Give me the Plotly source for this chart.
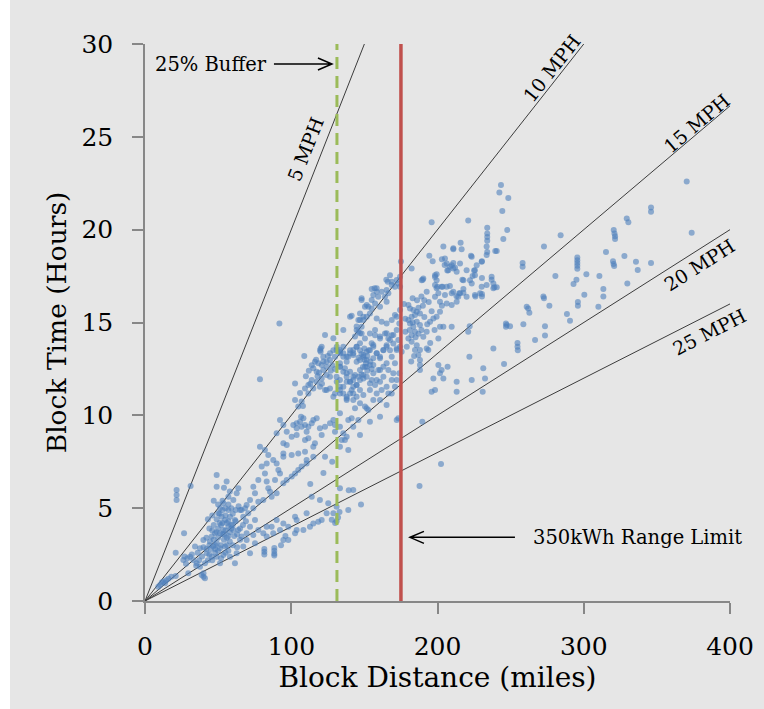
import math
import plotly.graph_objects as go

# ---- data -----------------------------------------------------------------
# (block distance in miles, block time in hours)
short_blocks = [
    (9.1, 0.77), (10.3, 0.86), (11.5, 1.0), (12.5, 1.04), (13.7, 0.95), (14.5, 1.12), (16, 1.2), (18, 1.3), (21, 1.35),
    (21.6, 5.98), (21.6, 5.71), (21.6, 5.44), (31.2, 6.2), (26.7, 3.65), (21, 2.6),
    (49.0, 6.79), (49.0, 6.16), (55.8, 6.43), (63.8, 6.07), (62.7, 5.8), (57.0, 5.62), (60.4, 5.44), (53.6, 5.26), (51.3, 4.99), (50.1, 4.72),
    (52.4, 4.54), (54.7, 4.36), (57.0, 4.9), (58.1, 4.54), (61.5, 4.36), (65.0, 4.9), (67.2, 4.54), (70.6, 4.72), (75.2, 4.36), (71.8, 4.0),
    (69.5, 3.65), (66.1, 3.47), (63.8, 3.82), (60.4, 3.82), (57.0, 4.0), (53.6, 3.82), (51.3, 3.65), (47.9, 3.65), (45.6, 3.47), (44.4, 3.2),
    (46.7, 2.93), (49.0, 3.11), (51.3, 2.84), (54.7, 2.93), (42.2, 2.57), (45.6, 2.39), (49.0, 2.39), (51.3, 2.03), (41.0, 2.03), (37.6, 1.85),
    (35.3, 2.03), (33.0, 2.21), (30.8, 2.39), (26.2, 2.21), (34.2, 2.93), (39.9, 3.29), (37.6, 2.84), (29.6, 1.49), (38.7, 1.4), (41.0, 1.22),
    (62.7, 2.57), (61.5, 2.03), (58.1, 2.39), (53.6, 2.48), (67.2, 2.93), (69.5, 3.29), (74.1, 3.56), (77.5, 3.82), (80.9, 3.65), (83.2, 3.47),
    (87.7, 3.65), (92.3, 3.82), (94.6, 4.18), (90.0, 4.36), (86.6, 4.0), (83.2, 4.0), (75.2, 3.11), (71.8, 2.57),
    (50, 3.9), (52, 4.1), (53, 3.6), (54, 3.3), (55, 3.8), (56, 4.2), (57, 3.5), (58, 3.2), (59, 3.9), (55, 2.6),
    (52, 2.3), (48, 2.6), (46, 2.2), (44, 2.5), (47, 4.1), (49, 4.4), (51, 4.7), (53, 4.9), (60, 4.7), (62, 4.9),
    (64, 5.1), (66, 4.9), (60, 3.0), (63, 2.9), (65, 3.3), (56, 3.0), (57, 2.7), (50, 3.4), (48, 3.0), (45, 2.8),
    (43, 2.2), (61, 3.5), (53, 5.4), (58, 5.9), (54, 6.1), (50, 5.2), (46, 4.6), (44, 3.9), (42, 3.4), (40, 2.9),
    (40, 1.5), (40, 1.3), (36, 2.6), (32, 2.5), (28, 2.0), (27, 2.4), (29, 2.3),
    (47, 3.3), (49, 3.7), (51, 4.2), (53, 4.2), (55, 4.6), (57, 4.3), (59, 4.1), (52, 3.0), (54, 3.6), (56, 3.4),
    (58, 3.7), (60, 4.1), (62, 4.3), (48, 2.8), (50, 2.7), (44, 3.0), (42, 2.8), (39, 2.4), (37, 2.2), (35, 1.9),
    (63, 3.6), (65, 3.9), (67, 4.1), (69, 4.3), (46, 3.8), (55, 5.0), (57, 5.2), (59, 5.0), (47, 5.4), (43, 4.4),
    (81.6, 2.8), (81.6, 2.65), (81.6, 2.5), (88.4, 2.85), (88.4, 2.7), (88.4, 2.55), (88.4, 2.45),
    (78.6, 8.31), (82.0, 8.13), (84.3, 7.86), (87.7, 7.59), (90.0, 7.41), (91.2, 7.05), (92.3, 6.87), (83.2, 7.41), (79.8, 7.24), (82.0, 6.87),
    (88.9, 6.52), (83.2, 6.43), (84.3, 6.07), (85.5, 5.89), (77.5, 6.52), (74.1, 6.16), (75.2, 5.8), (71.8, 5.44), (69.5, 5.17), (68.4, 4.99),
    (74.1, 4.99), (77.5, 5.35), (80.9, 5.44), (86.6, 5.62), (90.0, 5.8), (94.6, 6.34), (96.9, 6.52),
    (94.6, 3.29), (98.0, 4.0), (98.0, 3.29), (93, 3.0), (96, 3.5),
    (78.6, 11.94), (91.9, 14.95),
    (94.6, 9.48), (92.3, 9.75), (90.0, 9.03), (94.6, 8.49), (96.9, 8.4), (94.6, 7.95), (94.6, 7.77), (96.9, 9.12),
]

medium_blocks = [
    (100.3, 6.7), (102.6, 6.87), (104.8, 7.05), (107.1, 7.24), (110.5, 7.41), (113, 6.3), (122, 6.9), (128, 7.5),
    (102.6, 3.65), (103.7, 3.82), (108.3, 3.82), (112.8, 4.0), (115.1, 4.18), (118.5, 4.27), (120.8, 4.36), (125.3, 5.26), (128.8, 4.72), (131.0, 5.08),
    (133.3, 6.07), (139.0, 4.9), (142.4, 5.98), (102.6, 4.54), (110.5, 4.72), (124.2, 4.72), (119.6, 5.44), (114.0, 5.62), (103.7, 4.36), (131, 4.3),
    (132, 4.5), (130, 4.2), (133, 4.8), (147.7, 5.2), (139.3, 5.96), (127.7, 4.38),
    (106.7, 9.93), (108.3, 9.84), (106.0, 9.66), (103.7, 9.57), (109.4, 9.48), (111.7, 9.39), (115.1, 9.75), (117.4, 9.84), (114.0, 9.57), (107.1, 9.39),
    (103.7, 9.3), (101.4, 9.48), (110.5, 9.12), (111.7, 8.76), (116.2, 8.49), (115.1, 8.31), (103.7, 8.94), (100.3, 8.85),
    (100.3, 7.86), (104.8, 7.95), (109.4, 8.04), (110.5, 7.59), (115.1, 7.77), (119.6, 9.3), (123.1, 9.39), (120.8, 8.94), (126.5, 9.57), (128.8, 9.75),
    (129.9, 9.12), (133.3, 9.39), (135.6, 9.03), (136.7, 8.67), (139.0, 8.13), (141.3, 9.84), (123.1, 7.77), (109.4, 8.67),
    (134.5, 8.67), (137.9, 8.85), (133.3, 8.31), (142.4, 9.39), (147.0, 8.94), (139.0, 9.75), (129.9, 9.48), (133.3, 10.11), (143.6, 10.38), (145.9, 9.75),
    (150.4, 10.47), (151.6, 10.38), (152.7, 10.29), (153.8, 9.66), (172.1, 9.75), (173.2, 9.84), (160.7, 9.93), (165.2, 10.56), (166.4, 11.18),
    (116.2, 12.89), (118.5, 12.8), (120.8, 12.71), (115.1, 12.53), (117.4, 12.35), (121.9, 12.44), (124.2, 12.62), (126.5, 12.98), (129.9, 13.16), (133.3, 13.52),
    (135.6, 13.34), (139.0, 13.16), (142.4, 13.25), (144.7, 12.89), (133.3, 12.8), (136.7, 12.53), (140.2, 12.35), (143.6, 12.17), (131.0, 12.08), (133.3, 11.9),
    (137.9, 11.81), (142.4, 11.9), (145.9, 12.08), (124.2, 12.17), (120.8, 11.99), (117.4, 11.81), (114.0, 11.9), (111.7, 11.63), (109.4, 11.45), (115.1, 11.45),
    (119.6, 11.54), (123.1, 11.36), (126.5, 11.45), (129.9, 11.18), (133.3, 11.36), (137.9, 11.0), (141.3, 11.36), (111.7, 11.18), (107.1, 10.74), (102.6, 10.83),
    (102.6, 11.72), (104.8, 10.47), (141.3, 15.37), (135.6, 14.6), (123.1, 14.33), (128.8, 14.15), (120.1, 13.6), (120.1, 13.43), (120.8, 13.7), (108.9, 13.19),
    (112, 12.4), (114, 12.7), (117, 13.0), (119, 12.3), (122, 12.9), (125, 13.2), (127, 12.4), (110, 12.1), (113, 11.7), (118, 12.1),
    (121, 11.7), (128, 12.7), (130, 12.5), (106, 11.2), (108, 10.5),
    (131.1, 13.52), (133.3, 13.34), (135.6, 13.7), (137.9, 13.16), (140.2, 13.34), (142.4, 13.52), (144.7, 13.7), (147.0, 13.88), (143.6, 14.24), (145.9, 14.5),
    (148.1, 14.77), (149.3, 15.13), (151.6, 15.31), (147.0, 15.49), (150.4, 15.85), (155.0, 15.76), (157.3, 14.6), (155.0, 13.88), (151.6, 13.43), (149.3, 13.16),
    (147.0, 12.98), (150.4, 12.62), (153.8, 12.71), (156.1, 13.07), (158.4, 13.34), (160.7, 13.16), (163.0, 13.52), (165.2, 13.7), (167.5, 14.06), (169.8, 14.33),
    (165.2, 14.42), (160.7, 14.24), (156.1, 13.79),
    (133.3, 12.62), (135.6, 12.35), (137.9, 12.08), (140.2, 11.81), (142.4, 11.54), (144.7, 11.63), (147.0, 11.9), (149.3, 12.17), (151.6, 12.08), (155.0, 11.9),
    (157.3, 11.63), (160.7, 11.81), (163.0, 12.08), (159.5, 12.44), (156.1, 12.26), (163.0, 12.62), (166.4, 12.44), (169.8, 12.26), (168.7, 11.9), (165.2, 11.54),
    (161.8, 11.36), (158.4, 11.18), (153.8, 11.36), (149.3, 11.09), (144.7, 11.0), (140.2, 11.18), (137.9, 10.83), (142.4, 10.83), (147.0, 10.65), (133.3, 11.54),
    (135.6, 11.18), (156.1, 10.83), (160.7, 10.83), (168.7, 11.18), (170.9, 11.54), (172.1, 11.9), (170.9, 12.8), (168.7, 13.16), (173.2, 14.06), (174.4, 13.7),
    (148, 13.3), (150, 13.0), (152, 13.2), (151, 12.8), (149, 12.6), (153, 13.5), (154, 12.9), (146, 13.1), (150, 13.6), (152, 12.4), (148, 12.2), (155, 12.5),
    (119.7, 13.51), (121.9, 13.16), (124.2, 12.89), (126.5, 13.34), (128.8, 13.51), (131.1, 13.69), (133.3, 13.43), (135.6, 13.16), (137.9, 12.89), (140.2, 13.51),
    (142.4, 13.34), (144.7, 13.69), (147.0, 13.51), (149.3, 13.25), (151.6, 12.98), (153.8, 13.51), (156.1, 13.69), (158.4, 13.34), (160.7, 13.07), (163.0, 13.51),
    (165.2, 13.78), (167.5, 13.51), (169.8, 13.87), (172.1, 13.6),
    (144.7, 14.59), (148.1, 14.41), (150.4, 14.14), (153.8, 14.41), (157.3, 14.32), (160.7, 14.14), (164.1, 14.41), (166.4, 14.14), (168.7, 14.32),
    (147.0, 15.13), (149.3, 15.31), (153.8, 15.49), (158.4, 15.22), (161.8, 15.04), (165.2, 14.95), (168.7, 15.13), (170.9, 15.4),
    (133.3, 12.62), (137.9, 12.26), (142.4, 12.08), (147.0, 12.44), (151.6, 12.62), (156.1, 12.71), (160.7, 12.44), (165.2, 12.8),
    (126.5, 12.08), (131.1, 11.81), (135.6, 11.54), (140.2, 11.81), (144.7, 11.63), (149.3, 11.99), (153.8, 11.72), (158.4, 11.9),
    (124.2, 11.36), (128.8, 11.0), (133.3, 11.18), (137.9, 10.91), (142.4, 11.18), (147.0, 11.36),
    (172.1, 15.31), (174.4, 15.67), (173.9, 14.95), (172.1, 14.6), (172.1, 13.52), (173.9, 12.26), (168.7, 17.02), (174.4, 17.47), (172.1, 17.29), (174.4, 16.93),
    (165, 17.3), (166, 17.2), (155, 16.8), (157, 16.85), (158.4, 16.66), (148.1, 16.3), (152.7, 15.85), (145.9, 15.13), (144.7, 14.78), (147, 14.42), (140.2, 15.31),
    (167.5, 17.55), (168.7, 17.19), (173.2, 17.1), (170.9, 16.93), (165.2, 16.75), (161.8, 16.66), (158.4, 16.84), (156.1, 16.48), (159.5, 16.39), (164.1, 16.39),
    (166.4, 16.57), (155.0, 16.21), (157.3, 16.03), (151.6, 15.94), (148.1, 16.21), (165.2, 16.12), (160.7, 15.85),
]

long_blocks = [
    (175.5, 13.43), (175.0, 18.28), (182.3, 17.91),
    (189.2, 17.28), (190.3, 17.37), (192.6, 16.66), (198.3, 17.55), (199.4, 17.28), (198.3, 17.02), (199.4, 16.84), (200.6, 16.57), (198.3, 16.39), (202.8, 16.93),
    (206.3, 16.93), (207.4, 17.82), (209.7, 18.09), (210.8, 17.91), (213.1, 17.73), (206.3, 18.18), (205.1, 18.45), (215.4, 18.18), (219.9, 17.82), (225.6, 17.82),
    (226.8, 18.09), (230.2, 18.27), (233.6, 18.63), (223.4, 18.54), (225.6, 17.55), (222.2, 17.28), (217.7, 17.28), (215.4, 16.57), (214.2, 16.39), (209.7, 16.57),
    (205.1, 16.48), (201.7, 16.12), (206.3, 16.03), (209.7, 15.94), (213.1, 16.12), (219.9, 16.39), (225.6, 16.48), (229.1, 16.57), (230.2, 16.93), (233.6, 17.02),
    (237.0, 17.46), (238.2, 17.1), (238.2, 16.84),
    (180.1, 15.94), (181.2, 15.76), (183.5, 15.67), (185.8, 15.58), (188.0, 15.49), (184.6, 15.4), (182.3, 15.31), (180.1, 15.13), (181.2, 14.95), (183.5, 14.77),
    (185.8, 15.04), (188.0, 14.86), (184.6, 14.5), (182.3, 14.32), (180.1, 14.14), (182.3, 13.96), (185.8, 13.78), (188.0, 13.52), (186.9, 13.25), (188.0, 12.98),
    (184.6, 13.52), (190.3, 14.23), (192.6, 14.5), (194.9, 15.04), (197.2, 15.22), (199.4, 15.31), (201.7, 15.58), (201.7, 14.77), (204.0, 14.77), (209.7, 14.77),
    (200.6, 14.14), (192.6, 13.6), (193.7, 13.52),
    (181, 14.6), (183, 15.0), (185, 14.2), (187, 15.8), (189, 14.6), (191, 16.2), (184, 13.2), (182, 12.9),
    (221.8, 13.16), (206.9, 12.62), (202.8, 12.44), (201.7, 12.26), (204.0, 11.99), (213.1, 11.81), (223.4, 11.9), (231.3, 12.53), (232.5, 11.99), (230.9, 11.27),
    (238.2, 13.6), (197.2, 11.99), (198.3, 11.36), (196.0, 11.27), (213.1, 11.27), (188.0, 12.44), (188.0, 12.71), (200.6, 12.71),
    (202.4, 7.38), (189.6, 9.66), (187.7, 6.2),
    (243.4, 22.4), (242.3, 22.0), (248.4, 21.7), (244.3, 21.0), (247.7, 19.98), (245.0, 19.5), (221.0, 20.5), (196.0, 20.4),
    (234, 20.1), (234, 19.8), (234, 19.6), (234, 19.4), (233.6, 19.1), (234, 18.8),
    (240.5, 18.85), (239.5, 18.85), (215.8, 19.3), (210.8, 19.0), (210.8, 18.95), (204.0, 19.1), (216.5, 18.95), (194.4, 18.6), (196.7, 18.3), (203.0, 18.4),
    (210.8, 18.2), (204.9, 18.1), (208.5, 18.0), (212.0, 17.95), (206.7, 17.8), (222.9, 18.6), (230.4, 18.3), (225.0, 17.8), (224.0, 17.5), (230.4, 17.4),
    (237.0, 17.3), (238.9, 16.9), (240.5, 16.9), (272.8, 19.1), (284.2, 19.7), (258.2, 18.2), (258.2, 18.0), (280.6, 17.5),
    (199.4, 17.6), (198.3, 17.45), (199.9, 16.93), (189.9, 17.3), (203.5, 16.93), (208.5, 16.96), (217.0, 17.3), (217.7, 16.8), (217.7, 16.6), (223.4, 17.1),
    (230.4, 16.4), (230.4, 16.53), (225.9, 16.4), (214.9, 16.57), (213.0, 16.42), (210.8, 16.66),
    (186, 16.2), (190, 15.9), (194, 16.1), (196, 15.6), (191, 15.3), (187, 14.4), (193, 14.9), (198, 14.6), (195, 13.9), (203, 15.9),
    (189, 16.4), (183, 16.3), (178, 15.2), (177, 16.0), (178, 14.5), (179, 13.7),
    (272.4, 16.4), (272.8, 16.3), (276.5, 15.9), (261.0, 15.85), (262.0, 15.76), (262.8, 15.53), (288.5, 15.46), (246.8, 14.95), (246.8, 14.77), (247.3, 14.86),
    (249.6, 14.8), (258.7, 14.9), (273.5, 14.8), (273.5, 14.3), (221.0, 14.5), (222.0, 14.8),
    (254.7, 13.9), (254.7, 13.7), (254.9, 13.5), (266.7, 14.06), (245.5, 12.76), (290.6, 15.1), (293.0, 17.07), (295.0, 17.3),
    (295.6, 18.5), (295.6, 18.35), (295.6, 18.2), (295.6, 18.05), (295.6, 17.9), (296.0, 16.1), (296.0, 15.9), (300.4, 16.5), (301.8, 17.6), (310.0, 15.85),
    (310.7, 17.5), (313.4, 16.8), (313.4, 16.4), (315.2, 18.8), (320.5, 19.98), (321.0, 19.8), (321.4, 19.65), (321.4, 19.5), (320.0, 18.3), (320.4, 18.15),
    (320.8, 18.04), (327.8, 18.58), (329.4, 20.6), (330.5, 20.4), (329.8, 17.1), (335.7, 18.27), (336.9, 17.83), (346.0, 21.2), (346.0, 20.97), (346.0, 18.2),
    (370.4, 22.6), (373.8, 19.84),
]

speeds_mph = [5, 10, 15, 20, 25]
speed_labels = ["5 MPH", "10 MPH", "15 MPH", "20 MPH", "25 MPH"]
speed_label_miles = [109.8, 278.1, 377.4, 379.0, 385.7]
speed_label_hours = [24.34, 28.72, 25.75, 18.08, 14.48]

range_limit_miles = 175          # 350 kWh battery
range_buffer = 0.25              # 25% reserve
buffer_limit_miles = range_limit_miles * (1 - range_buffer)

x_ticks = [0, 100, 200, 300, 400]
y_ticks = [0, 5, 10, 15, 20, 25, 30]

# ---- layout geometry ------------------------------------------------------
W, H = 764, 709
M_L, M_R, M_T, M_B = 145, 34, 44, 108
PLOT_W, PLOT_H = W - M_L - M_R, H - M_T - M_B
X_MAX, Y_MAX = x_ticks[-1], y_ticks[-1]

FONT = "DejaVu Serif"
BG = "#e6e6e6"
AXIS = "#878787"

blocks = short_blocks + medium_blocks + long_blocks
block_miles = [b[0] for b in blocks]
block_hours = [b[1] for b in blocks]

fig = go.Figure()

# constant-speed reference lines
for mph in speeds_mph:
    x_end = min(X_MAX, Y_MAX * mph)
    fig.add_trace(go.Scatter(
        x=[0, x_end], y=[0, x_end / mph], mode="lines",
        line=dict(color="#3c3c3c", width=1), hoverinfo="skip", showlegend=False))

# blocks
fig.add_trace(go.Scatter(
    x=block_miles, y=block_hours, mode="markers",
    marker=dict(size=6, color="#4f81bd", opacity=0.6, line=dict(width=0)),
    showlegend=False))

# buffer and range limit
fig.add_trace(go.Scatter(
    x=[buffer_limit_miles, buffer_limit_miles], y=[0, Y_MAX], mode="lines",
    line=dict(color="#9bbb59", width=3, dash="12px,7px"), showlegend=False))
fig.add_trace(go.Scatter(
    x=[range_limit_miles, range_limit_miles], y=[0, Y_MAX], mode="lines",
    line=dict(color="#c0504d", width=3.5), showlegend=False))

# speed line labels, rotated to follow each line
px_per_mile = PLOT_W / X_MAX
px_per_hour = PLOT_H / Y_MAX
annotations = []
for mph, label, lx, ly in zip(speeds_mph, speed_labels, speed_label_miles, speed_label_hours):
    angle = math.degrees(math.atan(px_per_hour / (mph * px_per_mile)))
    annotations.append(dict(
        x=lx, y=ly, xref="x", yref="y", text=label, showarrow=False,
        textangle=-angle, font=dict(family=FONT, size=19, color="black")))

annotations.append(dict(
    x=5.5, y=28.92, xref="x", yref="y", text="25% Buffer", showarrow=False,
    xanchor="left", yanchor="middle", font=dict(family=FONT, size=19.5, color="black")))
annotations.append(dict(
    x=264, y=3.43, xref="x", yref="y", text="350kWh Range Limit", showarrow=False,
    xanchor="left", yanchor="middle", font=dict(family=FONT, size=19.5, color="black")))

# arrows pointing at the two vertical lines (pixel offsets from the line)
arrow_style = dict(type="path", xref="x", yref="y", xsizemode="pixel", ysizemode="pixel",
                   line=dict(color="black", width=1.5))
shapes = [
    dict(arrow_style, xanchor=buffer_limit_miles, yanchor=28.92,
         path="M -63,0 L -5,0 M -19,-6 L -5,0 L -19,6"),
    dict(arrow_style, xanchor=range_limit_miles, yanchor=3.43,
         path="M 114,0 L 9,0 M 23,-6 L 9,0 L 23,6"),
    # grey canvas with a thin white border along the top and left
    dict(type="rect", xref="paper", yref="paper", layer="below",
         x0=(10 - M_L) / PLOT_W, x1=(W + 5 - M_L) / PLOT_W,
         y0=-(M_B + 5) / PLOT_H, y1=(H - M_T - 12) / PLOT_H,
         fillcolor=BG, line=dict(width=0)),
]

axis_common = dict(
    showgrid=False, zeroline=False, showline=True, linecolor=AXIS, linewidth=1.5,
    ticks="outside", tickcolor=AXIS, tickwidth=1.5, ticklen=11,
    tickfont=dict(family=FONT, size=25, color="black"), automargin=False,
)

fig.update_xaxes(range=[0, X_MAX], tickvals=x_ticks, ticklabelstandoff=11,
                 title=dict(text="Block Distance (miles)", standoff=8,
                            font=dict(family=FONT, size=28, color="black")),
                 **axis_common)
fig.update_yaxes(range=[0, Y_MAX], tickvals=y_ticks, ticklabelstandoff=14,
                 title=dict(text="Block Time (Hours)", standoff=7,
                            font=dict(family=FONT, size=26.5, color="black")),
                 **axis_common)

fig.update_layout(
    width=W, height=H,
    margin=dict(l=M_L, r=M_R, t=M_T, b=M_B, pad=0),
    paper_bgcolor="white", plot_bgcolor="rgba(0,0,0,0)",
    annotations=annotations, shapes=shapes, showlegend=False,
)

fig.write_html("out.html")
